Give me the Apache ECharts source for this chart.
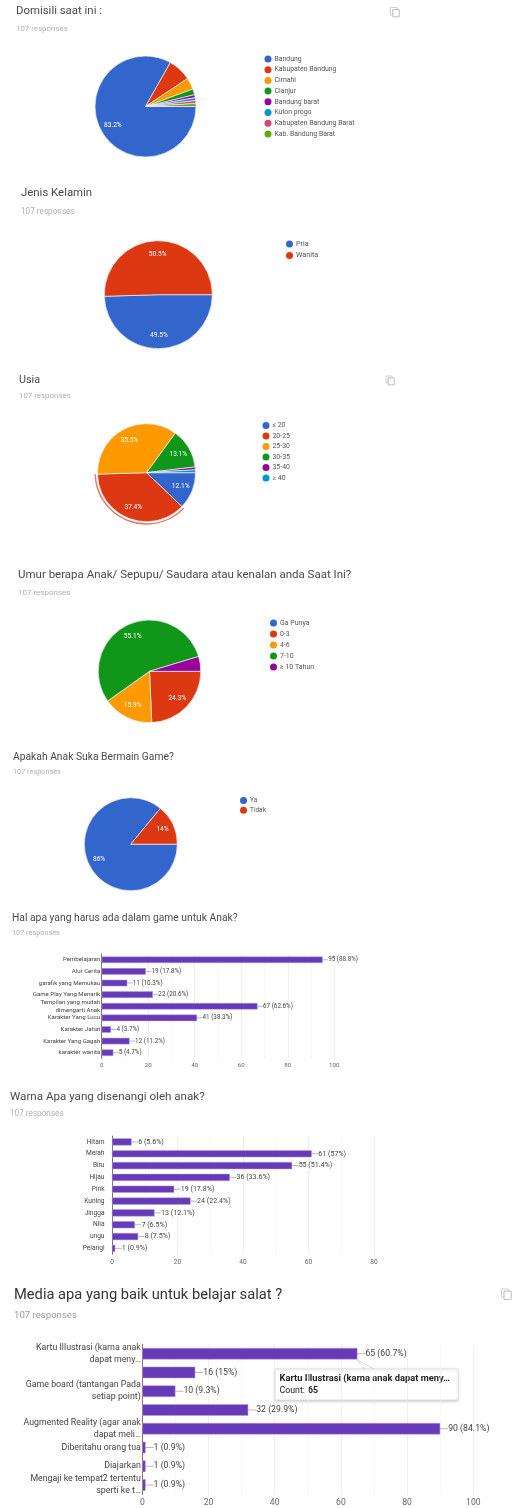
<!DOCTYPE html>
<html>
<head>
<meta charset="utf-8">
<style>html,body{margin:0;padding:0;background:#fff}#c{width:514px;height:1508px}</style>
<script src="https://cdn.jsdelivr.net/npm/echarts@6/dist/echarts.min.js"></script>
</head>
<body>
<div id="c"></div>
<script>
// Survey answers (107 responses per question)
const domisiliNames = ['Bandung','Kabupaten Bandung','Cimahi','Cianjur','Bandung barat','Kulon progo','Kabupaten Bandung Barat','Kab. Bandung Barat'];
const domisiliValues = [89,8,4,2,1,1,1,1];
const kelaminNames = ['Pria','Wanita'];
const kelaminValues = [53,54];
const usiaNames = ['≤ 20','20-25','25-30','30-35','35-40','≥ 40'];
const usiaValues = [13,40,38,14,1,1];
const umurNames = ['Ga Punya','0-3','4-6','7-10','≥ 10 Tahun'];
const umurValues = [0,26,17,59,5];
const sukaNames = ['Ya','Tidak'];
const sukaValues = [92,15];
const halNames = ['Pembelajaran','Alur Cerita','garafik yang Memukau','Game Play Yang Menarik','Tempilan yang mudah\ndimengarti Anak','Karakter Yang Lucu','Karakter Jahat','Karakter Yang Gagah','karakter wanita'];
const halValues = [95,19,11,22,67,41,4,12,5];
const warnaNames = ['Hitam','Merah','Biru','Hijau','Pink','Kuning','Jingga','Nila','ungu','Pelangi'];
const warnaValues = [6,61,55,36,19,24,13,7,8,1];
const mediaNames = ['Kartu Illustrasi (karna anak\ndapat meny…','','Game board (tantangan Pada\nsetiap point)','','Augmented Reality (agar anak\ndapat meli…','Diberitahu orang tua','Diajarkan','Mengaji ke tempat2 tertentu\nsperti ke t…'];
const mediaValues = [65,16,10,32,90,1,1,1];
const RESPONSES = 107;

const FONT = 'Roboto';
const palette = ['#3366cc','#dc3912','#ff9900','#109618','#990099','#0099c6','#dd4477','#66aa00'];
const pct = v => String(+(v / RESPONSES * 100).toFixed(1));

const titles = [];
const legends = [];
const series = [];
const grids = [];
const xAxes = [];
const yAxes = [];

function heading(text, sub, x, y, subY, size, subSize, color, subColor) {
  titles.push({text, left:x, top:y - size / 2 + 0.8, padding:0,
    textStyle:{fontFamily:FONT, fontSize:size, fontWeight:'normal', color}});
  titles.push({text:sub, left:x, top:subY - subSize / 2 + 0.6, padding:0,
    textStyle:{fontFamily:FONT, fontSize:subSize, fontWeight:'normal', color:subColor}});
}

function pie(names, values, cx, cy, r, legendPos) {
  const data = names.map((name, i) => ({name, value:values[i], itemStyle:{color:palette[i]}}));
  series.push({type:'pie', center:[cx,cy], radius:[0,r], startAngle:0, clockwise:true,
    animation:false, silent:true, avoidLabelOverlap:false, data,
    itemStyle:{borderColor:'#f4f4f8', borderWidth:0.7},
    label:{show:false}, labelLine:{show:false}, emphasis:{disabled:true}});
  // Transparent twin, larger, so the inside labels sit at about 0.69 of the radius
  series.push({type:'pie', center:[cx,cy], radius:[0,r * 1.38], startAngle:0, clockwise:true,
    animation:false, silent:true, avoidLabelOverlap:false,
    data:data.map(d => ({name:d.name, value:d.value, itemStyle:{color:'rgba(0,0,0,0)'}})),
    itemStyle:{borderWidth:0},
    label:{show:true, position:'inside', fontFamily:FONT, fontSize:6.6, color:'#fff',
      formatter:p => p.value / RESPONSES >= 0.1 ? pct(p.value) + '%' : ''},
    labelLine:{show:false}, emphasis:{disabled:true}});
  legends.push({data:names, orient:'vertical', left:legendPos.x, top:legendPos.y, padding:0,
    itemWidth:7, itemHeight:7, itemGap:legendPos.gap, icon:'circle', selectedMode:false,
    itemStyle:{borderWidth:0},
    textStyle:{fontFamily:FONT, fontSize:legendPos.size, color:'#555', padding:[0,0,0,-2]}});
}

function bars(names, values, g, style) {
  const idx = grids.length;
  grids.push({left:g.x0, top:g.top, width:g.w, height:g.h});
  xAxes.push({gridIndex:idx, type:'value', min:0, max:g.max, interval:20, splitNumber:5,
    axisLine:{show:false}, axisTick:{show:false},
    axisLabel:{fontFamily:FONT, fontSize:style.axis, color:'#666', margin:style.margin},
    splitLine:{show:true, lineStyle:{color:'#e6e6e6', width:0.6}},
    minorTick:{show:false, splitNumber:2},
    minorSplitLine:{show:true, lineStyle:{color:'#f2f2f2', width:0.6}}});
  yAxes.push({gridIndex:idx, type:'category', inverse:true, data:names,
    axisLine:{show:true, onZero:false, lineStyle:{color:'#444', width:0.7}}, axisTick:{show:false},
    splitLine:{show:false},
    axisLabel:{interval:0, fontFamily:FONT, fontSize:style.cat, color:'#444',
      margin:style.catMargin, lineHeight:style.line, align:'right'}});
  series.push({type:'bar', xAxisIndex:idx, yAxisIndex:idx, data:values, barWidth:style.bar,
    animation:false, silent:true,
    itemStyle:{color:'#673ab7', borderColor:'#b9a3e0', borderWidth:0.5},
    label:{show:true, position:'right', distance:0, fontFamily:FONT, fontSize:style.value, color:'#444',
      formatter:p => p.value + ' (' + pct(p.value) + '%)'},
    labelLayout:{dx:style.dash},
    labelLine:{show:true, lineStyle:{color:'#888', width:0.6}}});
}

function copyIcon(x, y, s) {
  return {type:'group', x, y, silent:true, children:[
    {type:'rect', shape:{x:0, y:0, width:s * 0.72, height:s * 0.82}, style:{fill:'#fff', stroke:'#cfcfcf', lineWidth:1}},
    {type:'rect', shape:{x:s * 0.25, y:s * 0.22, width:s * 0.72, height:s * 0.82}, style:{fill:'#fff', stroke:'#bdbdbd', lineWidth:1}}
  ]};
}

const soft = '#4a4a4a', softSub = '#b0b0b0';
heading('Domisili saat ini :','107 responses',16,11,28,11.4,7.9,soft,softSub);
heading('Jenis Kelamin','107 responses',21,193,211,11.4,8.2,soft,softSub);
heading('Usia','107 responses',19,379,395,10.8,7.9,soft,softSub);
heading('Umur berapa Anak/ Sepupu/ Saudara atau kenalan anda Saat Ini?','107 responses',18,574,592,11.5,8,soft,softSub);
heading('Apakah Anak Suka Bermain Game?','107 responses',13,757,772,10.3,7.3,soft,softSub);
heading('Hal apa yang harus ada dalam game untuk Anak?','107 responses',12,918,933,10.3,7.3,soft,softSub);
heading('Warna Apa yang disenangi oleh anak?','107 responses',10,1096,1113,11.6,8.2,soft,softSub);
heading('Media apa yang baik untuk belajar salat ?','107 responses',14,1294,1315,14.7,9.6,'#333','#9a9a9a');

pie(domisiliNames, domisiliValues, 145.5, 106.5, 50.5, {x:264.5, y:55.5, gap:3.7, size:6.9});
pie(kelaminNames, kelaminValues, 158.3, 294.7, 54, {x:286, y:240.5, gap:4.5, size:7.2});
pie(usiaNames, usiaValues, 146.5, 472.7, 49, {x:262.5, y:422, gap:3.5, size:6.9});
// Outline ring that marks the hovered 20-25 slice
series.push({type:'pie', center:[146.5,472.7], radius:[50.6,52], startAngle:0, clockwise:true,
  animation:false, silent:true, label:{show:false}, labelLine:{show:false}, emphasis:{disabled:true},
  data:usiaNames.map((name, i) => ({name, value:usiaValues[i],
    itemStyle:{color:i === 1 ? '#e57a66' : 'rgba(0,0,0,0)'}}))});
pie(umurNames, umurValues, 149.5, 671.3, 51.3, {x:270, y:619.5, gap:4, size:7});
pie(sukaNames, sukaValues, 130.8, 844.2, 46.5, {x:240, y:797, gap:2.8, size:6.5});

bars(halNames, halValues, {x0:101.7, top:954, w:232.6, h:104.5, max:100},
  {axis:6.2, margin:4, cat:6.1, catMargin:1.5, line:8, bar:6.6, value:6.3, dash:5.5});
bars(warnaNames, warnaValues, {x0:112, top:1136, w:262, h:118.3, max:80},
  {axis:6.6, margin:4.5, cat:6.6, catMargin:7.5, line:8, bar:7.2, value:7.1, dash:6.5});
bars(mediaNames, mediaValues, {x0:142.3, top:1344.3, w:331, h:150.1, max:100},
  {axis:8.6, margin:4, cat:8.8, catMargin:1.5, line:12, bar:11.6, value:8.7, dash:8});

// Hover card for the first bar of the last chart
const card = {type:'group', silent:true, z:100, children:[
  {type:'polygon', shape:{points:[[357.3,1360],[375,1369.5],[365,1369.5]]},
    style:{fill:'#fff', stroke:'#c4c4c4', lineWidth:0.6}},
  {type:'rect', shape:{x:275, y:1369, width:183.3, height:31},
    style:{fill:'#fff', stroke:'#d6d6d6', lineWidth:0.6, shadowBlur:3, shadowColor:'rgba(0,0,0,.22)', shadowOffsetY:1}},
  {type:'text', x:279.5, y:1374, style:{text:'Kartu Illustrasi (karna anak dapat meny…', fontFamily:FONT, fontSize:9.3, fontWeight:'bold', fill:'#222'}},
  {type:'text', x:279.5, y:1386, style:{text:'Count: ', fontFamily:FONT, fontSize:8.8, fill:'#222'}},
  {type:'text', x:308, y:1386, style:{text:String(mediaValues[0]), fontFamily:FONT, fontSize:8.8, fontWeight:'bold', fill:'#222'}}
]};

const chart = echarts.init(document.getElementById('c'), null, {renderer:'canvas', width:514, height:1508});
chart.setOption({
  animation:false,
  backgroundColor:'#fff',
  title:titles,
  legend:legends,
  grid:grids,
  xAxis:xAxes,
  yAxis:yAxes,
  series,
  graphic:[copyIcon(390.5,7.5,9), copyIcon(386,376,8.5), copyIcon(501.5,1289,10), card]
});
</script>
</body>
</html>
